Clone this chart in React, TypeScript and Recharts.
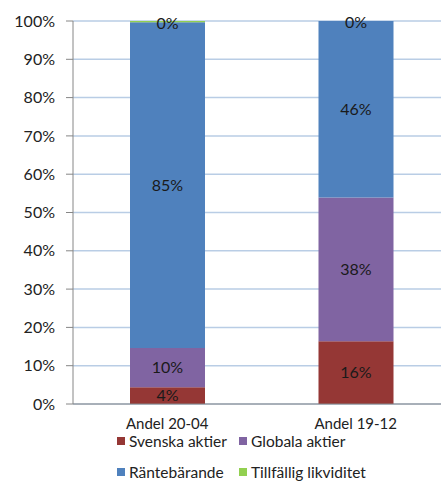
import React from 'react'
import { BarChart, Bar, XAxis, YAxis, CartesianGrid, Legend, LabelList } from 'recharts'

const categories = ['Andel 20-04', 'Andel 19-12']
const svenska = [4.4, 16.4]
const globala = [10.2, 37.5]
const rantebarande = [85.1, 46.1]
const likviditet = [0.3, 0]
const yTicks = [0, 10, 20, 30, 40, 50, 60, 70, 80, 90, 100]

const seriesInfo = [
  { key: 'svenska', name: 'Svenska aktier', color: '#953735' },
  { key: 'globala', name: 'Globala aktier', color: '#8064A2' },
  { key: 'rantebarande', name: 'Räntebärande', color: '#4F81BD' },
  { key: 'likviditet', name: 'Tillfällig likviditet', color: '#92D050' },
]

const data = categories.map((name, i) => ({
  name,
  svenska: svenska[i],
  globala: globala[i],
  rantebarande: rantebarande[i],
  likviditet: likviditet[i],
}))

const FONT = 'Lato, "Liberation Sans", sans-serif'

const pct = (v: any) => `${Math.round(Number(v))}%`

// liquidity slice is (near) zero high, so its label is drawn at the top of the stack
const TopLabel = (props: any) => {
  const { x, y, width, index } = props
  return (
    <text x={Number(x) + Number(width) / 2} y={Number(y)} textAnchor="middle" dominantBaseline="central" fill="#1a1a1a" fontSize={16}>
      {pct(likviditet[index])}
    </text>
  )
}

const LegendBox = () => (
  <div style={{ position: 'relative', width: 441, height: 47, fontFamily: FONT, fontSize: 15.5, color: '#222' }}>
    {seriesInfo.map((s, i) => {
      const left = i % 2 === 0 ? 117 : 239
      const top = i < 2 ? -1 : 30
      return (
        <div key={s.key} style={{ position: 'absolute', left, top, display: 'flex', alignItems: 'center', whiteSpace: 'nowrap', lineHeight: '16px' }}>
          <span style={{ display: 'inline-block', width: 8, height: 8, background: s.color, marginRight: 4 }} />
          <span>{s.name}</span>
        </div>
      )
    })}
  </div>
)

export default function App() {
  return (
    <div style={{ position: 'absolute', left: 0, top: 0, width: 441, height: 481, overflow: 'hidden', background: '#fff' }}>
      <BarChart
        width={450}
        height={481}
        data={data}
        margin={{ top: 21, right: 0, left: 0, bottom: 0 }}
        style={{ fontFamily: FONT }}
      >
        <CartesianGrid vertical={false} stroke="#B9CDE5" strokeWidth={1.5} />
        <XAxis
          dataKey="name"
          height={30}
          tickLine={false}
          axisLine={{ stroke: '#868686' }}
          tickMargin={8}
          tick={{ fill: '#222', fontSize: 15 }}
        />
        <YAxis
          width={73}
          domain={[0, 100]}
          ticks={yTicks}
          tickFormatter={pct}
          axisLine={{ stroke: '#868686' }}
          tickLine={{ stroke: '#868686' }}
          tickSize={7}
          tickMargin={11}
          tick={{ fill: '#222', fontSize: 16 }}
          interval={0}
        />
        <Legend verticalAlign="bottom" content={() => <LegendBox />} />
        <Bar dataKey="svenska" name="Svenska aktier" stackId="a" fill="#953735" barSize={75} isAnimationActive={false}>
          <LabelList dataKey="svenska" position="center" formatter={pct} fill="#1a1a1a" fontSize={16} />
        </Bar>
        <Bar dataKey="globala" name="Globala aktier" stackId="a" fill="#8064A2" barSize={75} isAnimationActive={false}>
          <LabelList dataKey="globala" position="center" formatter={pct} fill="#1a1a1a" fontSize={16} />
        </Bar>
        <Bar dataKey="rantebarande" name="Räntebärande" stackId="a" fill="#4F81BD" barSize={75} isAnimationActive={false}>
          <LabelList dataKey="rantebarande" position="center" formatter={pct} fill="#1a1a1a" fontSize={16} />
          <LabelList dataKey="rantebarande" content={TopLabel} />
        </Bar>
        <Bar dataKey="likviditet" name="Tillfällig likviditet" stackId="a" fill="#92D050" barSize={75} isAnimationActive={false} />
      </BarChart>
    </div>
  )
}
